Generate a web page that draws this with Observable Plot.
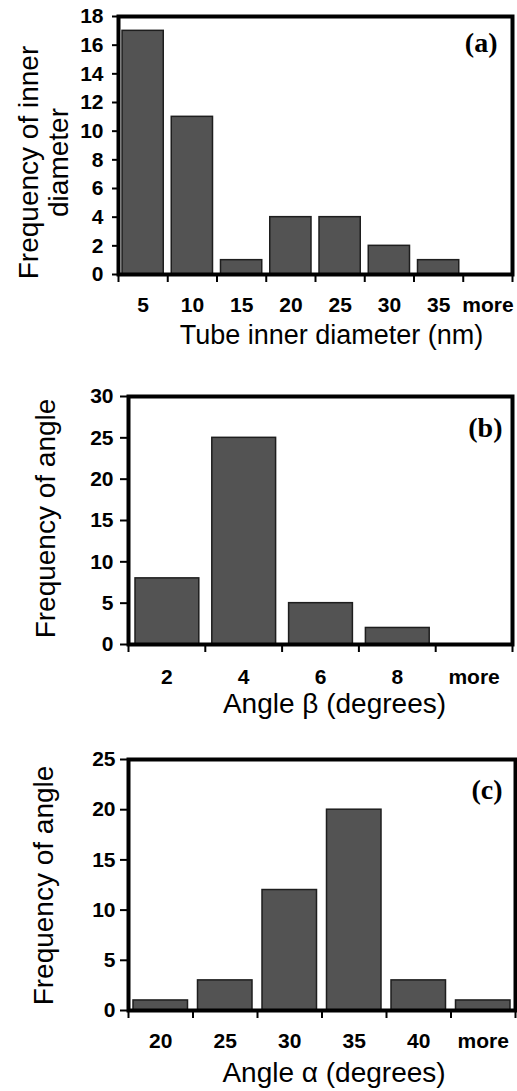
<!DOCTYPE html>
<html><head><meta charset="utf-8">
<script src="https://cdn.jsdelivr.net/npm/d3@7"></script>
<script src="https://cdn.jsdelivr.net/npm/@observablehq/plot@0.6"></script>
<style>body{margin:0;background:#fff} svg{display:block}</style>
</head><body><div id="chart"></div>
<script>
// Panel (a)
const catsA = ["5","10","15","20","25","30","35","more"];
const valsA = [17, 11, 1, 4, 4, 2, 1, 0];
const yTicksA = [0,2,4,6,8,10,12,14,16,18];
// Panel (b)
const catsB = ["2","4","6","8","more"];
const valsB = [8, 25, 5, 2, 0];
const yTicksB = [0,5,10,15,20,25,30];
// Panel (c)
const catsC = ["20","25","30","35","40","more"];
const valsC = [1, 3, 12, 20, 3, 1];
const yTicksC = [0,5,10,15,20,25];

const FONT = "'Liberation Sans', Arial, Helvetica, sans-serif";
const SERIF = "'Liberation Serif', 'Times New Roman', serif";

function panel(o) {
  const n = o.cats.length;
  const data = o.cats.map((c, i) => ({c, v: o.vals[i], i}));
  return Plot.plot({
    width: 517, height: o.height,
    marginTop: o.mt, marginBottom: o.mb, marginLeft: o.ml, marginRight: o.mr,
    style: {fontFamily: FONT, background: "white", color: "black", overflow: "visible"},
    x: {type: "linear", domain: [0, n]},
    y: {domain: [0, o.ymax]},
    marks: [
      Plot.rectY(data, {x1: "i", x2: d => d.i + 1, y: "v", insetLeft: o.il, insetRight: o.ir,
        fill: "#535353", stroke: "#1e1e1e", strokeWidth: 1.5}),
      Plot.frame({stroke: "black", strokeWidth: 4}),
      Plot.axisY({ticks: o.yTicks, tickSize: o.ts, tickPadding: o.tp, fontSize: 21,
        fontWeight: "bold", label: null, strokeWidth: 2}),
      Plot.axisX({ticks: d3.range(n + 1), tickFormat: () => "", tickSize: 8, label: null, strokeWidth: 2}),
      Plot.text(data, {x: d => d.i + 0.5, text: "c", frameAnchor: "bottom", dy: o.tickDy,
        fontSize: 21, fontWeight: "bold", lineAnchor: "middle"}),
      Plot.text([o.ytitle], {text: d => d, frameAnchor: "left", rotate: -90, dx: o.ytdx, dy: o.ytdy,
        fontSize: 28, lineAnchor: "middle", textAnchor: "middle", lineHeight: 1.07}),
      Plot.text([o.xtitle], {text: d => d, frameAnchor: "bottom", dx: o.xtdx, dy: o.xtdy,
        fontSize: o.xts, lineAnchor: "middle"}),
      Plot.text([o.lab], {text: d => d, frameAnchor: "top-right", dx: o.ldx, dy: o.ldy,
        fontFamily: SERIF, fontWeight: "bold", fontSize: 28, textAnchor: "end", lineAnchor: "middle"})
    ]
  });
}

const root = document.getElementById("chart");
root.appendChild(panel({
  cats: catsA, vals: valsA, yTicks: yTicksA, ymax: 18,
  height: 350, mt: 16, mb: 76, ml: 118, mr: 5, il: 4, ir: 4,
  ts: 6, tp: 9, tickDy: 31,
  ytitle: "Frequency of inner\ndiameter", ytdx: -75.5, ytdy: 17,
  xtitle: "Tube inner diameter (nm)", xtdx: 16, xtdy: 61, xts: 27,
  lab: "(a)", ldx: -15, ldy: 27
}));
root.appendChild(panel({
  cats: catsB, vals: valsB, yTicks: yTicksB, ymax: 30,
  height: 375, mt: 46, mb: 81, ml: 128, mr: 5, il: 7, ir: 6,
  ts: 8, tp: 7, tickDy: 33,
  ytitle: "Frequency of angle", ytdx: -83, ytdy: -2,
  xtitle: "Angle β (degrees)", xtdx: 14, xtdy: 60, xts: 28,
  lab: "(b)", ldx: -10, ldy: 31.5
}));
root.appendChild(panel({
  cats: catsC, vals: valsC, yTicks: yTicksC, ymax: 25,
  height: 366, mt: 34, mb: 81, ml: 128, mr: 2, il: 5, ir: 5,
  ts: 8, tp: 5, tickDy: 31,
  ytitle: "Frequency of angle", ytdx: -85, ytdy: 0.5,
  xtitle: "Angle α (degrees)", xtdx: 12, xtdy: 63, xts: 28,
  lab: "(c)", ldx: -13, ldy: 31
}));
</script>
</body></html>
